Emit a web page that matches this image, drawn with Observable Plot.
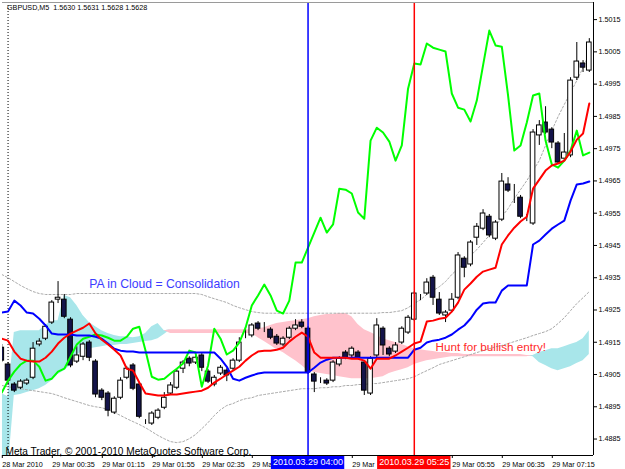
<!DOCTYPE html>
<html><head><meta charset="utf-8">
<script src="https://cdn.jsdelivr.net/npm/d3@7"></script>
<script src="https://cdn.jsdelivr.net/npm/@observablehq/plot@0.6"></script>
<style>body{margin:0;background:#fff} svg{display:block}</style>
</head><body>
<script>
// ---- data (M5 bars, index 0 = 28 Mar 23:55) ----
const headerText = "GBPUSD,M5  1.5630 1.5631 1.5628 1.5628";
const copyrightText = "Meta Trader, \u00a9 2001-2010 MetaQuotes Software Corp.";
const tickBars = [0,8,16,24,32,40,48,56,64,72,80,88];
// labels partly hidden behind the object-line date boxes are shown as they appear
const tickLabels = ["28 Mar 2010","29 Mar 00:35","29 Mar 01:15","29 Mar 01:55","29 Mar 02:35","29 Ma","","29 Mar","","29 Mar 05:55","29 Mar 06:35","29 Mar 07:15"];
const priceTicks = [1.4885,1.4895,1.4905,1.4915,1.4925,1.4935,1.4945,1.4955,1.4965,1.4975,1.4985,1.4995,1.5005,1.5015];
const daySeparatorBar = 1;
const vlineBars = [49, 66];
const vlineColors = ["#0000ff", "#ff0000"];
const vlineLabels = ["2010.03.29 04:00", "2010.03.29 05:25"];
const noteTexts = ["PA in Cloud = Consolidation", "Hunt for bullish entry!"];
const noteBars = [14.0, 69.4];
const notePrices = [1.49329, 1.49133];
const noteColors = ["#3c3cff", "#ff2a2a"];
const noteSizes = [12.2, 11.7];

const open = [1.49133,1.49081,1.49019,1.49009,1.49022,1.49040,1.49143,1.49161,1.49211,1.49282,
1.49282,1.49220,1.49090,1.49105,1.49149,1.49090,1.49000,1.48991,1.48932,1.48978,
1.49040,1.49078,1.49019,1.48907,1.48898,1.48916,1.48947,1.48991,1.49009,1.49068,
1.49099,1.49087,1.49109,1.49059,1.49019,1.49053,1.49062,1.49068,1.49093,1.49189,
1.49171,1.49208,1.49195,1.49189,1.49167,1.49143,1.49164,1.49192,1.49211,1.49192,
1.49050,1.49040,1.49031,1.49031,1.49081,1.49118,1.49109,1.49118,1.49087,1.48991,
1.49109,1.49192,1.49130,1.49121,1.49149,1.49180,1.49220,1.49291,1.49301,1.49350,
1.49282,1.49233,1.49248,1.49288,1.49409,1.49391,1.49474,1.49502,1.49539,1.49471,
1.49530,1.49639,1.49611,1.49598,1.49533,1.49518,1.49791,1.49831,1.49809,1.49766,
1.49719,1.49729,1.49970,1.50014,1.49992];
const high = [1.49143,1.49087,1.49025,1.49034,1.49037,1.49149,1.49161,1.49205,1.49279,1.49338,
1.49298,1.49226,1.49136,1.49149,1.49155,1.49096,1.49006,1.48997,1.48981,1.49040,
1.49074,1.49084,1.49025,1.48910,1.48935,1.48944,1.48994,1.49025,1.49065,1.49093,
1.49105,1.49109,1.49115,1.49065,1.49047,1.49078,1.49068,1.49099,1.49164,1.49189,
1.49208,1.49214,1.49211,1.49195,1.49174,1.49167,1.49198,1.49220,1.49220,1.49198,
1.49056,1.49040,1.49037,1.49093,1.49105,1.49124,1.49136,1.49124,1.49093,1.49105,
1.49223,1.49198,1.49136,1.49149,1.49198,1.49233,1.49307,1.49298,1.49347,1.49357,
1.49304,1.49248,1.49301,1.49428,1.49415,1.49465,1.49518,1.49561,1.49546,1.49527,
1.49673,1.49660,1.49639,1.49605,1.49546,1.49809,1.49837,1.49880,1.49815,1.49772,
1.49797,1.49970,1.50079,1.50023,1.50091];
const low = [1.49087,1.49016,1.48994,1.49003,1.49016,1.49034,1.49136,1.49155,1.49205,1.49270,
1.49223,1.49071,1.49084,1.49093,1.49090,1.48978,1.48969,1.48919,1.48926,1.48972,
1.49034,1.49000,1.48913,1.48895,1.48892,1.48910,1.48941,1.48985,1.49003,1.49053,
1.49074,1.49081,1.49059,1.49022,1.49012,1.49047,1.49028,1.49062,1.49087,1.49161,
1.49164,1.49186,1.49180,1.49158,1.49140,1.49136,1.49158,1.49186,1.49192,1.49050,
1.48994,1.49022,1.49016,1.49025,1.49074,1.49096,1.49102,1.49096,1.48985,1.48985,
1.49102,1.49109,1.49105,1.49115,1.49143,1.49174,1.49214,1.49279,1.49295,1.49264,
1.49233,1.49211,1.49242,1.49282,1.49350,1.49384,1.49450,1.49496,1.49474,1.49465,
1.49524,1.49614,1.49580,1.49533,1.49524,1.49512,1.49760,1.49794,1.49750,1.49701,
1.49713,1.49722,1.49961,1.49986,1.49986];
const close = [1.49093,1.49031,1.49000,1.49028,1.49031,1.49130,1.49152,1.49198,1.49273,1.49288,
1.49229,1.49078,1.49109,1.49143,1.49102,1.48988,1.48978,1.48938,1.48975,1.49031,
1.49068,1.49006,1.48919,1.48907,1.48929,1.48938,1.48978,1.49016,1.49059,1.49087,
1.49084,1.49102,1.49071,1.49028,1.49040,1.49071,1.49047,1.49093,1.49149,1.49189,
1.49202,1.49192,1.49195,1.49164,1.49146,1.49161,1.49192,1.49202,1.49198,1.49056,
1.49028,1.49040,1.49022,1.49087,1.49099,1.49102,1.49130,1.49102,1.49000,1.49099,
1.49202,1.49140,1.49112,1.49140,1.49192,1.49226,1.49301,1.49291,1.49335,1.49288,
1.49239,1.49242,1.49282,1.49419,1.49381,1.49459,1.49508,1.49549,1.49481,1.49521,
1.49648,1.49620,1.49611,1.49539,1.49533,1.49800,1.49822,1.49800,1.49769,1.49707,
1.49738,1.49961,1.50020,1.50001,1.50079];

const tenkan = [1.49161,1.49155,1.49121,1.49099,1.49093,1.49090,1.49090,1.49102,1.49121,1.49146,
1.49164,1.49177,1.49186,1.49195,1.49208,1.49177,1.49158,1.49143,1.49127,1.49109,
1.49068,1.49062,1.49025,1.48991,1.48988,1.48985,1.48985,1.48988,1.48988,1.48991,
1.48994,1.48997,1.49000,1.49009,1.49025,1.49037,1.49050,1.49062,1.49074,1.49093,
1.49109,1.49121,1.49124,1.49124,1.49127,1.49133,1.49152,1.49167,1.49180,1.49167,
1.49118,1.49102,1.49102,1.49102,1.49102,1.49102,1.49099,1.49099,1.49093,1.49068,
1.49099,1.49099,1.49099,1.49109,1.49121,1.49133,1.49146,1.49152,1.49214,1.49217,
1.49223,1.49226,1.49245,1.49273,1.49313,1.49332,1.49353,1.49369,1.49375,1.49381,
1.49453,1.49481,1.49505,1.49524,1.49539,1.49626,1.49654,1.49682,1.49698,1.49704,
1.49713,1.49741,1.49778,1.49797,1.49890];
const kijun = [1.49242,1.49245,1.49279,1.49264,1.49242,1.49239,1.49223,1.49202,1.49177,1.49174,
1.49174,1.49174,1.49171,1.49171,1.49171,1.49167,1.49161,1.49146,1.49130,1.49124,
1.49121,1.49121,1.49118,1.49118,1.49118,1.49118,1.49118,1.49118,1.49118,1.49118,
1.49118,1.49118,1.49118,1.49118,1.49118,1.49099,1.49074,1.49037,1.49031,1.49040,
1.49047,1.49053,1.49056,1.49056,1.49056,1.49056,1.49056,1.49056,1.49056,1.49056,
1.49071,1.49087,1.49096,1.49102,1.49102,1.49102,1.49102,1.49102,1.49102,1.49102,
1.49102,1.49102,1.49102,1.49102,1.49102,1.49102,1.49127,1.49133,1.49149,1.49155,
1.49158,1.49164,1.49174,1.49189,1.49202,1.49223,1.49251,1.49270,1.49273,1.49273,
1.49310,1.49326,1.49326,1.49326,1.49326,1.49453,1.49465,1.49484,1.49502,1.49515,
1.49527,1.49589,1.49639,1.49642,1.49648];
const chikou = [1.48994,1.49031,1.49059,1.49081,1.49093,1.49093,1.49074,1.49031,1.49037,1.49059,
1.49068,1.49105,1.49143,1.49161,1.49167,1.49174,1.49171,1.49164,1.49155,1.49155,
1.49167,1.49192,1.49198,1.49124,1.49043,1.49034,1.49037,1.49053,1.49068,1.49084,
1.49124,1.49118,1.49012,1.49078,1.49192,1.49161,1.49112,1.49124,1.49149,1.49195,
1.49264,1.49295,1.49329,1.49295,1.49248,1.49239,1.49279,1.49397,1.49397,1.49443,
1.49490,1.49536,1.49490,1.49515,1.49626,1.49623,1.49611,1.49552,1.49533,1.49775,
1.49815,1.49800,1.49772,1.49713,1.49760,1.49936,1.50014,1.50011,1.50076,1.50063,
1.50057,1.50051,1.49921,1.49877,1.49871,1.49834,1.49899,1.50008,1.50116,1.50070,
1.50066,1.49915,1.49744,1.49760,1.49831,1.49915,1.49921,1.49775,1.49701,1.49691,
1.49713,1.49744,1.49806,1.49729,1.49738];
const spanA = [1.48991,1.48981,1.49180,1.49186,1.49186,1.49186,1.49186,1.49202,1.49217,1.49217,
1.49295,1.49288,1.49264,1.49233,1.49211,1.49198,1.49186,1.49177,1.49171,1.49167,
1.49167,1.49164,1.49167,1.49177,1.49198,1.49208,1.49186,1.49177,1.49177,1.49177,
1.49177,1.49177,1.49177,1.49177,1.49177,1.49177,1.49177,1.49177,1.49177,1.49177,
1.49177,1.49164,1.49152,1.49140,1.49127,1.49118,1.49105,1.49093,1.49078,1.49062,
1.49056,1.49053,1.49050,1.49047,1.49043,1.49040,1.49037,1.49037,1.49037,1.49037,
1.49040,1.49043,1.49053,1.49059,1.49065,1.49071,1.49081,1.49087,1.49093,1.49096,
1.49099,1.49102,1.49105,1.49105,1.49105,1.49105,1.49105,1.49105,1.49105,1.49105,
1.49105,1.49105,1.49105,1.49105,1.49105,1.49109,1.49118,1.49124,1.49130,1.49130,
1.49136,1.49143,1.49149,1.49161,1.49186];
const spanB = [1.48752,1.48752,1.48985,1.48988,1.48994,1.49000,1.49006,1.49016,1.49031,1.49050,
1.49062,1.49078,1.49109,1.49124,1.49130,1.49133,1.49136,1.49140,1.49140,1.49143,
1.49143,1.49146,1.49149,1.49152,1.49155,1.49161,1.49174,1.49189,1.49189,1.49189,
1.49189,1.49189,1.49189,1.49189,1.49189,1.49189,1.49189,1.49189,1.49189,1.49189,
1.49189,1.49192,1.49195,1.49202,1.49208,1.49211,1.49214,1.49217,1.49220,1.49223,
1.49229,1.49233,1.49236,1.49236,1.49239,1.49239,1.49229,1.49205,1.49189,1.49180,
1.49171,1.49161,1.49155,1.49149,1.49143,1.49136,1.49130,1.49127,1.49124,1.49121,
1.49118,1.49118,1.49115,1.49115,1.49112,1.49112,1.49112,1.49112,1.49112,1.49112,
1.49112,1.49112,1.49112,1.49112,1.49109,1.49105,1.49087,1.49078,1.49068,1.49062,
1.49068,1.49074,1.49084,1.49093,1.49112];
const bandUpper = [1.49360,1.49350,1.49338,1.49326,1.49316,1.49307,1.49301,1.49298,1.49298,1.49298,
1.49298,1.49298,1.49301,1.49301,1.49301,1.49301,1.49301,1.49301,1.49301,1.49301,
1.49301,1.49301,1.49301,1.49301,1.49301,1.49301,1.49301,1.49301,1.49301,1.49301,
1.49301,1.49301,1.49298,1.49291,1.49285,1.49279,1.49273,1.49264,1.49257,1.49251,
1.49245,1.49242,1.49240,1.49240,1.49240,1.49240,1.49240,1.49240,1.49240,1.49240,
1.49240,1.49240,1.49240,1.49240,1.49240,1.49240,1.49240,1.49240,1.49240,1.49240,
1.49240,1.49242,1.49242,1.49245,1.49248,1.49257,1.49270,1.49282,1.49298,1.49310,
1.49322,1.49338,1.49360,1.49378,1.49400,1.49419,1.49437,1.49459,1.49481,1.49508,
1.49539,1.49564,1.49595,1.49623,1.49651,1.49682,1.49713,1.49760,1.49806,1.49849,
1.49887,1.49924,1.49961,1.50001,1.50045];
const bandLower = [1.49016,1.49012,1.49009,1.49006,1.49003,1.49000,1.48997,1.48994,1.48991,1.48985,
1.48978,1.48972,1.48966,1.48960,1.48954,1.48950,1.48947,1.48941,1.48932,1.48923,
1.48913,1.48904,1.48895,1.48885,1.48873,1.48861,1.48851,1.48842,1.48839,1.48842,
1.48851,1.48864,1.48882,1.48901,1.48923,1.48941,1.48954,1.48960,1.48969,1.48975,
1.48978,1.48985,1.48988,1.48991,1.48994,1.48997,1.49000,1.49003,1.49006,1.49006,
1.49006,1.49009,1.49009,1.49012,1.49012,1.49016,1.49016,1.49019,1.49019,1.49022,
1.49022,1.49025,1.49028,1.49031,1.49034,1.49037,1.49043,1.49053,1.49062,1.49071,
1.49081,1.49087,1.49093,1.49099,1.49105,1.49112,1.49118,1.49124,1.49130,1.49136,
1.49140,1.49146,1.49152,1.49158,1.49164,1.49171,1.49177,1.49183,1.49192,1.49208,
1.49226,1.49248,1.49270,1.49288,1.49307];

// ---- derived tables ----
const bars = open.map((o, i) => ({
  i, open: o, high: high[i], low: low[i], close: close[i],
  tenkan: tenkan[i], kijun: kijun[i], chikou: chikou[i],
  spanA: spanA[i], spanB: spanB[i], upper: bandUpper[i], lower: bandLower[i]
}));
const vlines = vlineBars.map((b, k) => ({bar: b, color: vlineColors[k], label: vlineLabels[k]}));
const notes = noteTexts.map((t, k) => ({text: t, bar: noteBars[k], price: notePrices[k], color: noteColors[k], size: noteSizes[k]}));
const labelOf = new Map(tickBars.map((b, k) => [b, tickLabels[k]]));
const xDomain = [0.112, 94.672];
const yDomain = [1.48799, 1.50203];

const chart = Plot.plot({
  width: 625, height: 469,
  marginTop: 2, marginLeft: 2, marginRight: 32, marginBottom: 14,
  style: {fontFamily: "'Liberation Sans', Arial, sans-serif", fontSize: "7.2px", background: "#fff", color: "#000", overflow: "visible"},
  x: {domain: xDomain, axis: null},
  y: {domain: yDomain, axis: null},
  marks: [
    // cloud
    Plot.areaY(bars, {x: "i", y1: "spanB", y2: d => Math.max(d.spanA, d.spanB), fill: "#a8e6ea", clip: true}),
    Plot.areaY(bars, {x: "i", y1: "spanA", y2: d => Math.max(d.spanA, d.spanB), fill: "#ffc2cc", clip: true}),
    // day separator
    Plot.ruleX([daySeparatorBar], {stroke: "#000", strokeDasharray: "1,2", strokeWidth: 1}),
    // dotted bands
    Plot.line(bars, {x: "i", y: "upper", stroke: "#aaaaaa", strokeDasharray: "2,2", strokeWidth: 1, clip: true}),
    Plot.line(bars, {x: "i", y: "lower", stroke: "#aaaaaa", strokeDasharray: "2,2", strokeWidth: 1, clip: true}),
    // candles
    Plot.ruleX(bars, {x: "i", y1: "low", y2: "high", stroke: "#000", strokeWidth: 1, clip: true}),
    Plot.rect(bars, {x1: d => d.i - 0.37, x2: d => d.i + 0.37, y1: "open", y2: "close",
      fill: d => d.close >= d.open ? "#ffffff" : "#14144a", stroke: "#000", strokeWidth: 1, clip: true}),
    // indicator lines
    Plot.line(bars, {x: "i", y: "chikou", stroke: "#00ff00", strokeWidth: 2, clip: true}),
    Plot.line(bars, {x: "i", y: "kijun", stroke: "#0000ff", strokeWidth: 2, clip: true}),
    Plot.line(bars, {x: "i", y: "tenkan", stroke: "#ff0000", strokeWidth: 2, clip: true}),
    // vertical object lines
    Plot.ruleX(vlines, {x: "bar", stroke: "color", strokeWidth: 1.5}),
    // annotations
    Plot.text(notes, {x: "bar", y: "price", text: "text", fill: "color", textAnchor: "start", fontSize: "size"}),
    Plot.text([copyrightText], {text: d => d, frameAnchor: "bottom-left", textAnchor: "start", lineAnchor: "bottom", dx: 3, dy: -1, fontSize: 10.1, fill: "#000"}),
    Plot.text([headerText], {text: d => d, frameAnchor: "top-left", textAnchor: "start", lineAnchor: "top", dx: 4.5, dy: 2.5, fontSize: 7.2, fill: "#000"}),
    // frame & axes
    Plot.ruleY([yDomain[1]], {stroke: "#9a9a9a"}),
    Plot.ruleX([xDomain[1]], {stroke: "#000"}),
    Plot.ruleY([yDomain[0]], {stroke: "#000"}),
    Plot.axisY(priceTicks, {anchor: "right", tickSize: 3, tickPadding: 2, tickFormat: d3.format(".4f"), label: null, fontSize: 7.2}),
    Plot.axisX(tickBars, {anchor: "bottom", tickSize: 3, tickPadding: 3, tickFormat: b => labelOf.get(b), textAnchor: "start", dx: 0.5, label: null, fontSize: 7.2}),
    // vertical line labels on the time axis
    Plot.rect(vlines, {x1: "bar", x2: "bar", fill: "color", insetLeft: -36.7, insetRight: -36.7, insetTop: 454, insetBottom: -14}),
    Plot.text(vlines, {x: "bar", text: "label", frameAnchor: "bottom", lineAnchor: "top", dy: 3.5, fill: "#fff", fontSize: 9})
  ]
});
document.body.appendChild(chart);
</script>
</body></html>
